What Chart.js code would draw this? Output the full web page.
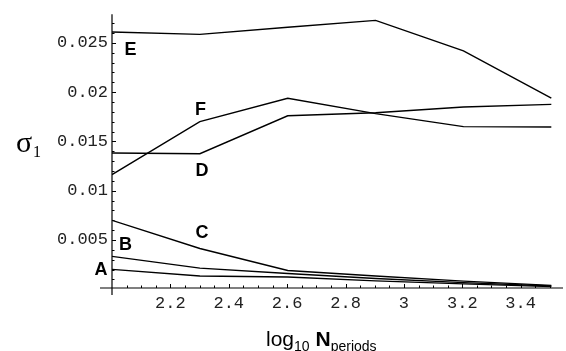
<!DOCTYPE html>
<html>
<head>
<meta charset="utf-8">
<script src="https://cdn.jsdelivr.net/npm/chart.js@4.4.0/dist/chart.umd.min.js"></script>
<style>
    html, body { margin: 0; padding: 0; background: #fff; }
    #wrap { width: 566px; height: 351px; }
</style>
</head>
<body>
<div id="wrap"><canvas id="sigmaChart"></canvas></div>
<script>
// valores
const logN = [2, 2.301, 2.602, 2.903, 3.204, 3.505];
const serieA = [0.00202, 0.00135, 0.00125, 0.00085, 0.00055, 0.00027];
const serieB = [0.00334, 0.00215, 0.00160, 0.00110, 0.00068, 0.00033];
const serieC = [0.00699, 0.00414, 0.00190, 0.00135, 0.00083, 0.00040];
const serieD = [0.01382, 0.01375, 0.01760, 0.01790, 0.01849, 0.01875];
const serieE = [0.02610, 0.02585, 0.02657, 0.02727, 0.02419, 0.01938];
const serieF = [0.01163, 0.01700, 0.01938, 0.01782, 0.01650, 0.01646];
const yTicks = [0.005, 0.01, 0.015, 0.02, 0.025];
const xTicks = [2.2, 2.4, 2.6, 2.8, 3, 3.2, 3.4];
const curveNames = ["A", "B", "C", "D", "E", "F"];
const nameX = [1.962, 2.046, 2.308, 2.308, 2.063, 2.303];
const nameY = [0.00192, 0.00445, 0.00575, 0.01201, 0.02428, 0.01817];

const series = [serieA, serieB, serieC, serieD, serieE, serieF];

const datasets = series.map((valores, i) => ({
    label: curveNames[i],
    data: logN.map((x, j) => ({ x: x, y: valores[j] })),
    borderColor: "#000",
    borderWidth: 1.4,
    pointRadius: 0,
    fill: false,
    tension: 0
}));

// ejes al estilo Mathematica, letras de curvas y títulos
const ejes = {
    id: "ejes",
    afterDraw(chart) {
        const ctx = chart.ctx;
        const sx = chart.scales.x, sy = chart.scales.y;
        const x0 = sx.getPixelForValue(2);
        const y0 = sy.bottom;
        ctx.save();
        ctx.strokeStyle = "#000";
        ctx.lineWidth = 1.2;
        ctx.beginPath();
        ctx.moveTo(x0 - 12, y0);
        ctx.lineTo(sx.right, y0);
        ctx.moveTo(x0, sy.top);
        ctx.lineTo(x0, y0 + 7);
        ctx.stroke();

        ctx.lineWidth = 1;
        ctx.beginPath();
        for (let k = 1; k <= 27; k++) {
            const py = Math.round(sy.getPixelForValue(k / 1000)) + 0.5;
            const len = k % 5 === 0 ? 4 : 2.5;
            ctx.moveTo(x0, py);
            ctx.lineTo(x0 + len, py);
        }
        for (let k = 41; k <= 70; k++) {
            const px = Math.round(sx.getPixelForValue(k / 20)) + 0.5;
            const len = k % 4 === 0 ? 4 : 2.5;
            ctx.moveTo(px, y0);
            ctx.lineTo(px, y0 - len);
        }
        ctx.stroke();

        ctx.fillStyle = "#000";
        ctx.font = "bold 18px 'Liberation Sans', Arial, sans-serif";
        ctx.textAlign = "center";
        ctx.textBaseline = "middle";
        curveNames.forEach((n, i) => {
            ctx.fillText(n, sx.getPixelForValue(nameX[i]), sy.getPixelForValue(nameY[i]));
        });

        // sigma_1
        ctx.textAlign = "left";
        ctx.textBaseline = "alphabetic";
        ctx.font = "30px 'Liberation Serif', 'Times New Roman', serif";
        ctx.fillText("σ", 16, 152);
        ctx.font = "16px 'Liberation Serif', 'Times New Roman', serif";
        ctx.fillText("1", 33, 157);

        // log10 N_periods
        let cx = 266;
        const base = 346;
        ctx.font = "21px 'Liberation Sans', Arial, sans-serif";
        ctx.fillText("log", cx, base);
        cx += ctx.measureText("log").width;
        ctx.font = "14px 'Liberation Sans', Arial, sans-serif";
        ctx.fillText("10", cx, base + 5);
        cx += ctx.measureText("10 ").width + 2;
        ctx.font = "bold 21px 'Liberation Sans', Arial, sans-serif";
        ctx.fillText("N", cx, base);
        cx += ctx.measureText("N").width;
        ctx.font = "14px 'Liberation Sans', Arial, sans-serif";
        ctx.fillText("periods", cx, base + 5);
        ctx.restore();
    }
};

const ctx = document.getElementById("sigmaChart").getContext("2d");
new Chart(ctx, {
    type: "line",
    data: { datasets: datasets },
    options: {
        responsive: true,
        maintainAspectRatio: false,
        animation: false,
        layout: { padding: { top: 9, right: 3, left: 0, bottom: 0 } },
        plugins: {
            legend: { display: false },
            tooltip: { enabled: false },
            title: { display: false }
        },
        scales: {
            x: {
                type: "linear",
                min: 2,
                max: 3.545,
                grid: { display: false, drawTicks: false },
                border: { display: false },
                afterBuildTicks: (scale) => { scale.ticks = xTicks.map(v => ({ value: v })); },
                afterFit: (scale) => { scale.height = 63; },
                ticks: {
                    padding: 5,
                    color: "#222",
                    font: { family: "'Liberation Mono', 'Courier New', monospace", size: 17 },
                    callback: (v) => String(v)
                }
            },
            y: {
                type: "linear",
                min: 0.00013,
                max: 0.0279,
                grid: { display: false, drawTicks: false },
                border: { display: false },
                afterBuildTicks: (scale) => { scale.ticks = yTicks.map(v => ({ value: v })); },
                afterFit: (scale) => { scale.width = 112; },
                ticks: {
                    padding: 4,
                    color: "#222",
                    font: { family: "'Liberation Mono', 'Courier New', monospace", size: 17 },
                    callback: (v) => String(+v.toFixed(4))
                }
            }
        }
    },
    plugins: [ejes]
});
</script>
</body>
</html>
